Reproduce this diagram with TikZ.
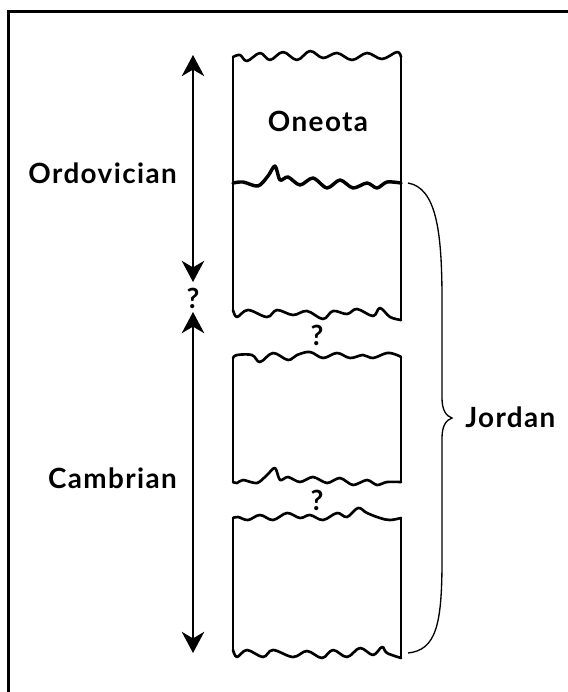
\documentclass[tikz,border=0pt]{standalone}
\usepackage{fontspec}
\setsansfont{Lato}[LetterSpace=5]
\usetikzlibrary{arrows.meta}

\begin{document}
\begin{tikzpicture}[
    x=0.0265cm, y=-0.0265cm,
    frame line/.style={line width=2.2pt},
    wall line/.style={line width=2pt, line cap=round},
    wave line/.style={line width=2pt, line join=round, line cap=round},
    contact line/.style={line width=2.6pt, line join=round, line cap=round},
    age arrow/.style={line width=1pt, {Stealth[length=16pt, width=17pt, inset=5pt]}-{Stealth[length=16pt, width=17pt, inset=5pt]}},
    brace line/.style={line width=1pt},
    every node/.style={font=\sffamily\bfseries\fontsize{21}{24}\selectfont, inner sep=0pt}
]
    \useasboundingbox (0,0) rectangle (567,692);

    % Frame
    \draw[frame line] (8.5,11.3) rectangle (620,740);

    % Block 1 (Oneota)
    \draw[wall line] (233,57) -- (233,310);
    \draw[wall line] (401,57) -- (401,320);
    \draw[wave line] plot[smooth, tension=0.6] coordinates {(233,57) (240,55) (247,61) (260,53) (270,60) (283,52) (297,60) (310,51) (323,58) (337,53) (352,60) (367,53) (382,59) (397,52) (401,57)};
    \draw[contact line] plot[smooth, tension=0.5] coordinates {(233,183) (243,182) (258,186) (268,176) (275,166) (280,180) (288,177) (300,185) (313,178) (327,188) (340,180) (353,188) (367,183) (377,188) (387,182) (401,183)};
    \draw[wave line] plot[smooth, tension=0.6] coordinates {(233,310) (237,317) (248,310) (267,317) (277,310) (293,315) (307,311) (323,319) (333,311) (347,314) (357,309) (373,316) (380,308) (390,317) (401,320)};

    % Block 2
    \draw[wall line] (233,358) -- (233,482);
    \draw[wall line] (401,357) -- (401,482);
    \draw[wave line] plot[smooth, tension=0.6] coordinates {(233,358) (237,355) (252,355) (260,362) (273,353) (288,360) (297,355) (310,352) (323,358) (337,353) (350,358) (363,355) (373,358) (387,353) (397,355) (401,357)};
    \draw[wave line] plot[smooth, tension=0.5] coordinates {(233,482) (237,483) (243,480) (257,483) (267,475) (275,468) (280,480) (288,477) (300,482) (313,477) (327,483) (340,478) (353,485) (367,480) (377,485) (387,482) (401,482)};

    % Block 3
    \draw[wall line] (233,518) -- (233,650);
    \draw[wall line] (401,518) -- (401,658);
    \draw[wave line] plot[smooth, tension=0.6] coordinates {(233,518) (238,517) (248,520) (260,515) (273,520) (287,513) (300,518) (310,515) (323,520) (337,513) (347,517) (358,508) (367,513) (380,518) (390,520) (401,518)};
    \draw[wave line] plot[smooth, tension=0.6] coordinates {(233,650) (237,657) (247,650) (263,657) (273,650) (293,657) (307,651) (322,658) (333,650) (347,657) (360,648) (373,655) (382,647) (387,653) (401,658)};

    % Labels
    \node (oneota) at (318,121) {Oneota};
    \node[anchor=east] (ordovician) at (177,173) {Ordovician};
    \node[anchor=east] (cambrian) at (177,478) {Cambrian};
    \node[anchor=west] (jordan) at (465,417) {Jordan};
    \node (gapAge) at (193,298) {?};
    \node (gapOne) at (317,335) {?};
    \node (gapTwo) at (317,500) {?};

    % Age arrows
    \coordinate (ordTop) at (193,55);
    \coordinate (ordBot) at (193,282);
    \coordinate (camTop) at (193,312);
    \coordinate (camBot) at (193,653);
    \draw[age arrow] (ordTop) -- (ordBot);
    \draw[age arrow] (camTop) -- (camBot);

    % Brace
    \coordinate (braceTop) at (408,183);
    \coordinate (braceTip) at (452,418);
    \coordinate (braceBot) at (408,653);
    \draw[brace line] (braceTop) .. controls (436,188) and (442,230) .. (442,300)
        -- (442,398) .. controls (442,410) and (446,416) .. (braceTip)
        .. controls (446,420) and (442,426) .. (442,438)
        -- (442,560) .. controls (442,625) and (436,650) .. (braceBot);
\end{tikzpicture}
\end{document}
